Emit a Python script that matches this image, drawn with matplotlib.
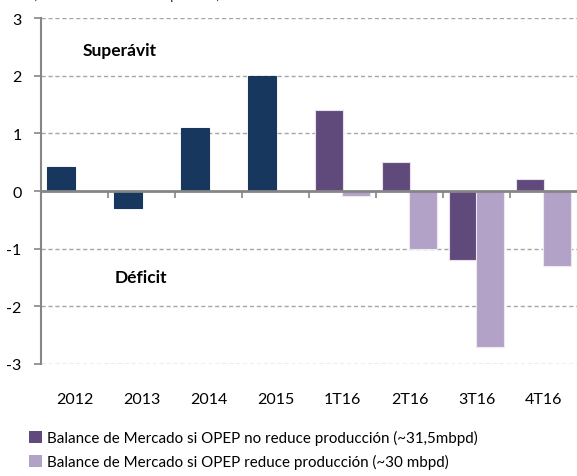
import matplotlib
matplotlib.use("Agg")
import matplotlib.pyplot as plt
from matplotlib.patches import Patch
from matplotlib.transforms import blended_transform_factory
import numpy as np

plt.rcParams['font.family'] = ['Lato', 'DejaVu Sans']

categories = ['2012', '2013', '2014', '2015', '1T16', '2T16', '3T16', '4T16']
historico = [0.42, -0.3, 1.1, 2.0]
no_reduce = [1.4, 0.5, -1.2, 0.2]
reduce_ = [-0.08, -1.0, -2.7, -1.3]
y_ticks = [-3, -2, -1, 0, 1, 2, 3]
legend_labels = ['Balance de Mercado si OPEP no reduce producción (~31,5mbpd)',
                 'Balance de Mercado si OPEP reduce producción (~30 mbpd)']

navy = '#17375E'
dark_purple = '#604A7B'
light_purple = '#B3A2C7'
gray = '#868686'

fig = plt.figure(figsize=(5.77, 4.77), dpi=100)
ax = fig.add_axes([41/577, 1-365/477, 1-41/577, (365-19)/477])

x = np.arange(len(categories))
w = 0.41
serie_a = historico + no_reduce
colors_a = [navy]*len(historico) + [dark_purple]*len(no_reduce)
edges_a = [navy]*len(historico) + ['#E8E0F0']*len(no_reduce)
ax.bar(x - 0.2, serie_a, width=w, color=colors_a, edgecolor=edges_a, linewidth=0.8, zorder=3)
xq = x[len(historico):]
ax.bar(xq + 0.2, reduce_, width=w, color=light_purple, edgecolor='#EEE8F4', linewidth=0.8, zorder=3)

ax.set_xlim(-0.5, len(categories) - 0.5)
ax.set_ylim(-3, 3)
ax.set_yticks(y_ticks)
ax.set_yticklabels([str(v) for v in y_ticks], fontsize=11.5)
for v in y_ticks:
    if v != 0:
        ax.axhline(v, color='#A6A6A6', lw=1.0, ls=(0, (3, 2)), zorder=1)

for s in ['top', 'right']:
    ax.spines[s].set_visible(False)
ax.spines['left'].set_color(gray)
ax.spines['left'].set_linewidth(1.5)
ax.spines['bottom'].set_position(('data', 0))
ax.spines['bottom'].set_color(gray)
ax.spines['bottom'].set_linewidth(2.0)
ax.spines['bottom'].set_zorder(4)
ax.tick_params(axis='y', length=5, width=1.2, color=gray, pad=9, labelcolor='black')
ax.set_xticks(x[1:] - 0.5)
ax.set_xticklabels([])
ax.tick_params(axis='x', length=5, width=1.2, color=gray, direction='out')

trans = blended_transform_factory(ax.transData, fig.transFigure)
for xi, c in zip(x, categories):
    ax.text(xi, 1 - 400/477, c, transform=trans, ha='center', va='center', fontsize=11.5)

fig.text(120/577, 1-51/477, 'Superávit', fontsize=12.5, fontweight='bold', ha='center', va='center')
fig.text(141/577, 1-278/477, 'Déficit', fontsize=12.5, fontweight='bold', ha='center', va='center')

fig.text(33/577, 1+0.5/477, '(millones de barriles por día)', fontsize=11, ha='left', va='baseline', color='#404040')

handles = [Patch(facecolor=dark_purple, edgecolor='none'), Patch(facecolor=light_purple, edgecolor='none')]
fig.legend(handles, legend_labels, loc='upper left', bbox_to_anchor=(29/577, 1-431/477),
           frameon=False, fontsize=10.9, handlelength=0.85, handleheight=0.85,
           handletextpad=0.35, labelspacing=0.6, borderaxespad=0, borderpad=0)

fig.savefig('out.png', dpi=100)
